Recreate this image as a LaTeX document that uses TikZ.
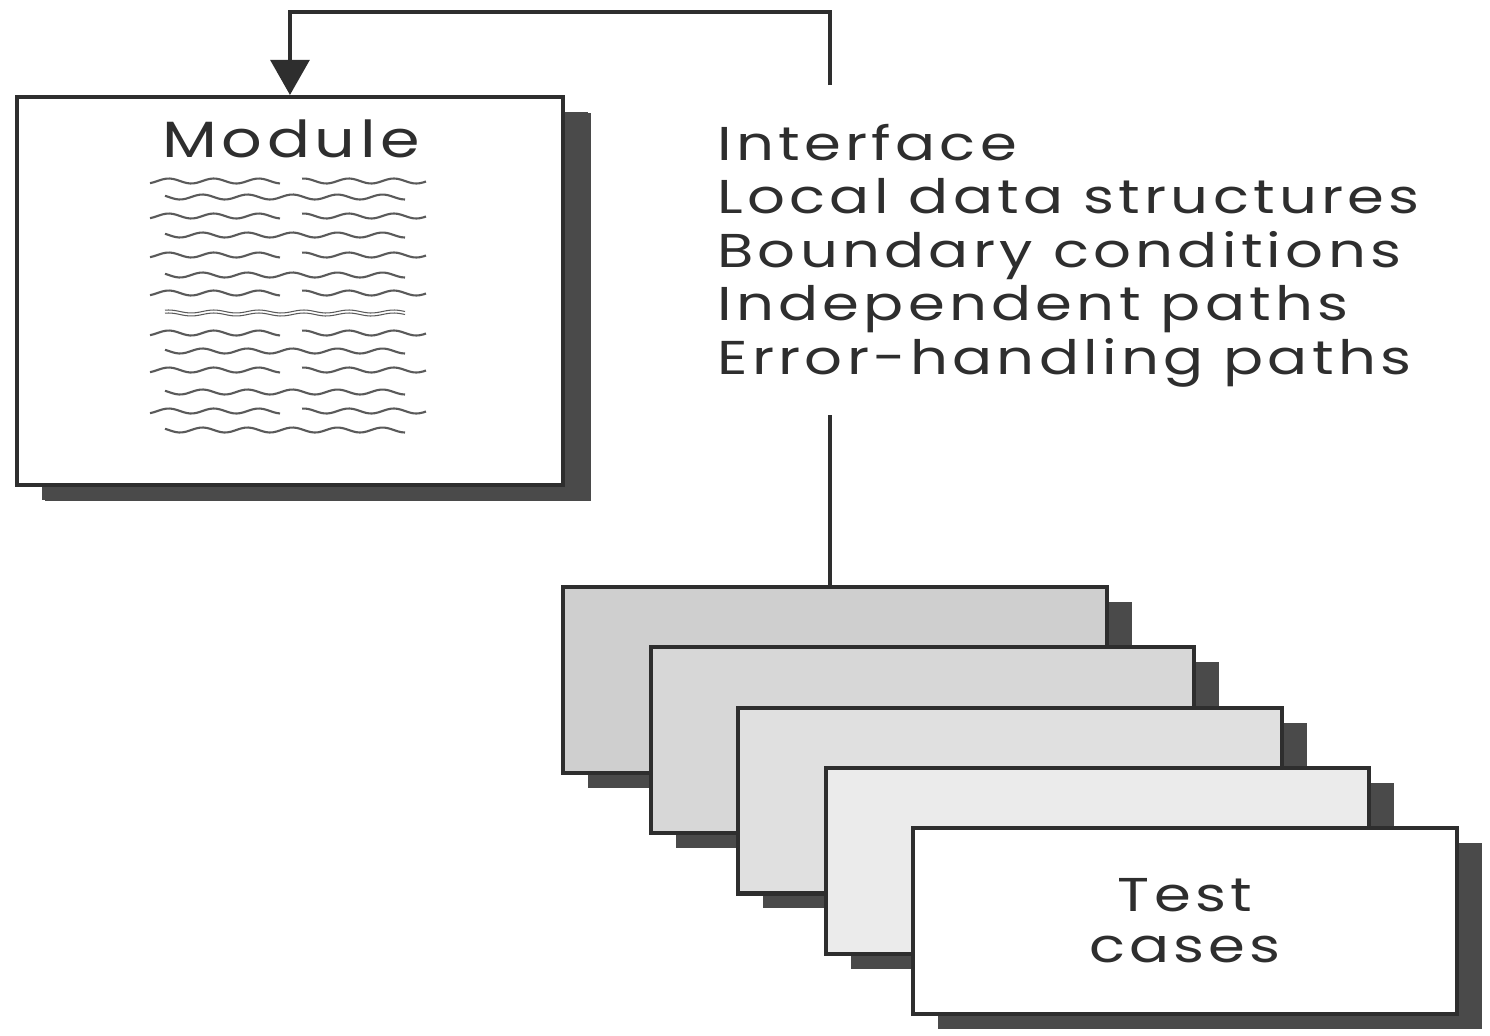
\documentclass[tikz,border=0pt]{standalone}
\usepackage{fontspec}
\setmainfont{Poppins}[FakeStretch=1.25, LetterSpace=9]
\usetikzlibrary{arrows.meta,shadows}

\definecolor{ink}{HTML}{2E2E2E}
\definecolor{shade}{HTML}{4A4A4A}
\definecolor{scribble}{HTML}{5A5A5A}
\definecolor{sheetA}{HTML}{CFCFCF}
\definecolor{sheetB}{HTML}{D7D7D7}
\definecolor{sheetC}{HTML}{E0E0E0}
\definecolor{sheetD}{HTML}{EBEBEB}

\begin{document}
\begin{tikzpicture}[x=0.02cm,y=-0.02cm,
  labelfont/.style={font=\fontsize{27}{29}\selectfont, text=ink},
  box/.style={draw=ink, line width=2.3pt,
    drop shadow={shadow xshift=0.5cm, shadow yshift=-0.3cm, fill=shade, opacity=1}},
  card/.style={box, minimum width=10.88cm, minimum height=3.72cm, inner sep=0pt},
  conn/.style={draw=ink, line width=2.5pt},
  wave/.style={draw=scribble, line width=1.2pt}
]
\fill[white] (0,0) rectangle (1490,1035);
\useasboundingbox (0,0) rectangle (1490,1035);

% the module under test, a listing on a sheet
\node[box, fill=white, minimum width=10.92cm, minimum height=7.76cm, inner sep=0pt,
  anchor=north west,
  drop shadow={shadow xshift=0.56cm, shadow yshift=-0.32cm, fill=shade, opacity=1}]
  (module) at (15,95) {};
\node[labelfont, font=\fontsize{29}{31}\selectfont, anchor=base] (modtitle) at (291,157) {Module};

% scribbled lines of code
\foreach \yy [count=\i] in {181,197,216,235,255,275,293,313,333,351,370,392,411,430}{
  \ifodd\i
    \draw[wave] plot[domain=150:280,samples=40] (\x,{\yy+2.5*sin(8*\x)});
    \draw[wave] plot[domain=302:426,samples=40] (\x,{\yy+2.5*sin(8*\x)});
  \else
    \ifnum\i=8
      \draw[wave, line width=0.6pt] plot[domain=165:405,samples=70] (\x,{\yy-1.5+1.5*sin(8*\x)});
      \draw[wave, line width=0.6pt] plot[domain=165:405,samples=70] (\x,{\yy+1.5+1.5*sin(8*\x)});
    \else
      \draw[wave] plot[domain=165:405,samples=70] (\x,{\yy+2.5*sin(8*\x+90)});
    \fi
  \fi
}

% what the tests examine
\node[labelfont, anchor=base west, inner sep=0pt] (l1) at (717,160) {Interface};
\node[labelfont, anchor=base west, inner sep=0pt] (l2) at (717,213.5) {Local data structures};
\node[labelfont, anchor=base west, inner sep=0pt] (l3) at (717,267) {Boundary conditions};
\node[labelfont, anchor=base west, inner sep=0pt] (l4) at (717,320.5) {Independent paths};
\node[labelfont, anchor=base west, inner sep=0pt] (l5) at (717,374) {Error-handling paths};

% stack of test cases
\node[card, fill=sheetA] (card1) at (835,680) {};
\node[card, fill=sheetB] (card2) at (922.5,740.25) {};
\node[card, fill=sheetC] (card3) at (1010,800.5) {};
\node[card, fill=sheetD] (card4) at (1097.5,860.75) {};
\node[card, fill=white, labelfont, align=center] (card5) at (1185,921) {Test\\cases};

% connectors
\coordinate (tapin) at (830,85);
\coordinate (tapout) at (830,415);
\draw[conn, -{Triangle[length=20pt,width=22pt]}] (tapin) -- ++(0,-73) -| (module.north);
\draw[conn] (tapout) -- (tapout |- card1.north);
\end{tikzpicture}
\end{document}
